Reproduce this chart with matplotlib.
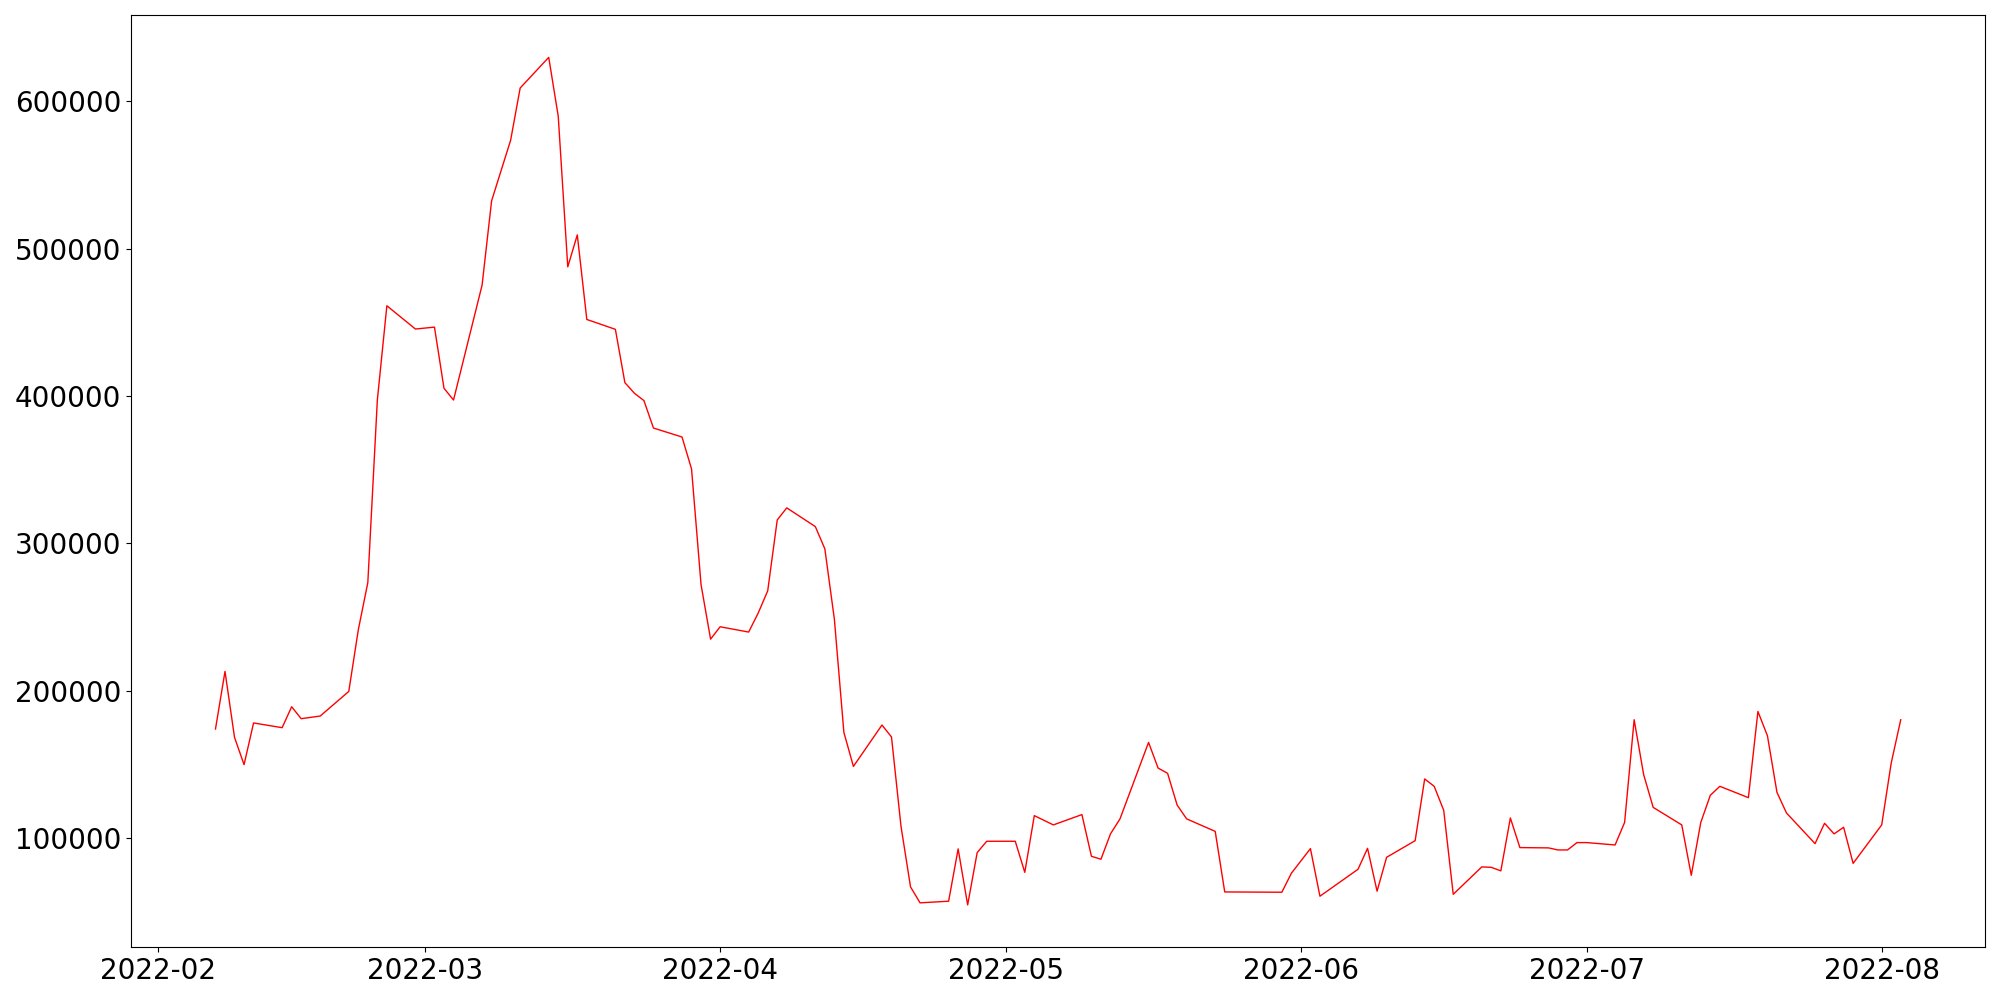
import pandas as pd
import matplotlib
matplotlib.use("Agg")
import matplotlib.pyplot as plt

# 날짜 / 값 (그림에서 읽은 꼭짓점)
dates = [
    "2022-02-07", "2022-02-08", "2022-02-09", "2022-02-10", "2022-02-11",
    "2022-02-14", "2022-02-15", "2022-02-16", "2022-02-18", "2022-02-21",
    "2022-02-22", "2022-02-23", "2022-02-24", "2022-02-25", "2022-02-28",
    "2022-03-02", "2022-03-03", "2022-03-04", "2022-03-07", "2022-03-08",
    "2022-03-10", "2022-03-11", "2022-03-14", "2022-03-15", "2022-03-16",
    "2022-03-17", "2022-03-18", "2022-03-21", "2022-03-22", "2022-03-23",
    "2022-03-24", "2022-03-25", "2022-03-28", "2022-03-29", "2022-03-30",
    "2022-03-31", "2022-04-01", "2022-04-04", "2022-04-05", "2022-04-06",
    "2022-04-07", "2022-04-08", "2022-04-11", "2022-04-12", "2022-04-13",
    "2022-04-14", "2022-04-15", "2022-04-18", "2022-04-19", "2022-04-20",
    "2022-04-21", "2022-04-22", "2022-04-25", "2022-04-26", "2022-04-27",
    "2022-04-28", "2022-04-29", "2022-05-02", "2022-05-03", "2022-05-04",
    "2022-05-06", "2022-05-09", "2022-05-10", "2022-05-11", "2022-05-12",
    "2022-05-13", "2022-05-16", "2022-05-17", "2022-05-18", "2022-05-19",
    "2022-05-20", "2022-05-23", "2022-05-24", "2022-05-30", "2022-05-31",
    "2022-06-02", "2022-06-03", "2022-06-07", "2022-06-08", "2022-06-09",
    "2022-06-10", "2022-06-13", "2022-06-14", "2022-06-15", "2022-06-16",
    "2022-06-17", "2022-06-20", "2022-06-21", "2022-06-22", "2022-06-23",
    "2022-06-24", "2022-06-27", "2022-06-28", "2022-06-29", "2022-06-30",
    "2022-07-01", "2022-07-04", "2022-07-05", "2022-07-06", "2022-07-07",
    "2022-07-08", "2022-07-11", "2022-07-12", "2022-07-13", "2022-07-14",
    "2022-07-15", "2022-07-18", "2022-07-19", "2022-07-20", "2022-07-21",
    "2022-07-22", "2022-07-25", "2022-07-26", "2022-07-27", "2022-07-28",
    "2022-07-29", "2022-08-01", "2022-08-02", "2022-08-03",
]
values = [
    173900, 213000, 168200, 149700, 178000,
    174800, 189000, 180900, 182700, 199400,
    241200, 273300, 397200, 461200, 445400,
    446700, 405200, 397200, 475200, 532400,
    573600, 609000, 629800, 589800, 487600,
    509300, 451900, 445200, 409000, 401800,
    396800, 378200, 372100, 350400, 271800,
    234900, 243300, 239700, 252600, 267700,
    315800, 324000, 311300, 296200, 248500,
    171600, 148500, 176600, 168500, 107800,
    66700, 55900, 57000, 92500, 54500,
    90000, 97700, 97700, 76600, 115100,
    108800, 115800, 87500, 85500, 102700,
    112900, 164800, 147400, 143800, 122300,
    112900, 104400, 63300, 63100, 76000,
    92700, 60400, 78700, 92900, 63800,
    86800, 98100, 140000, 135000, 118700,
    61700, 80300, 80000, 77600, 113500,
    93400, 93200, 91800, 91800, 96800,
    96800, 95200, 110500, 180200, 142900,
    120700, 108800, 74600, 110500, 128900,
    135000, 127300, 185800, 169300, 130900,
    116900, 96100, 109900, 102700, 107200,
    82700, 108800, 150800, 180200,
]

x = pd.to_datetime(dates)

fig, ax = plt.subplots(figsize=(20, 10), dpi=100)
ax.plot(x, values, color="red", linewidth=1.0)
ax.tick_params(axis="both", labelsize=20)
plt.tight_layout()
plt.savefig("out.png")
